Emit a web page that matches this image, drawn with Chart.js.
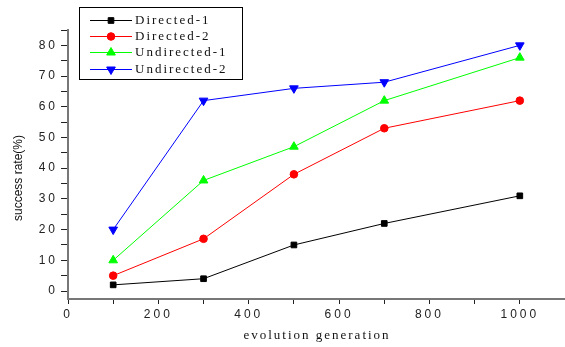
<!DOCTYPE html>
<html><head><meta charset="utf-8">
<script src="https://cdn.jsdelivr.net/npm/chart.js@4/dist/chart.umd.min.js"></script>
<style>html,body{margin:0;padding:0;background:#fff;overflow:hidden}canvas{display:block}</style>
</head><body><canvas id="c" width="565" height="347" style="width:565px;height:347px"></canvas>
<script>
const xValues = [100, 300, 500, 700, 1000];
const directed1 = [2, 4, 15, 22, 31];
const directed2 = [5, 17, 38, 53, 62];
const undirected1 = [10, 36, 47, 62, 76];
const undirected2 = [20, 62, 66, 68, 80];
const seriesNames = ['Directed-1', 'Directed-2', 'Undirected-1', 'Undirected-2'];
const xTitle = 'evolution generation';
const yTitle = 'success rate(%)';

function pts(arr){ return arr.map((v,i)=>({x:xValues[i], y:v})); }

const spacingPlugin = {
  id:'spacing',
  beforeLayout(chart){ chart.ctx.letterSpacing='3px'; },
  beforeDraw(chart){ chart.ctx.letterSpacing='3px'; }
};

const extraPlugin = {
  id:'extra',
  afterDraw(chart){
    const ctx = chart.ctx;
    ctx.save();
    ctx.fillStyle = '#111';
    ctx.letterSpacing = '0px';
    ctx.font = '12px "Liberation Sans", Arial, sans-serif';
    ctx.translate(19, 178);
    ctx.rotate(-Math.PI/2);
    ctx.textAlign = 'center'; ctx.textBaseline = 'middle';
    ctx.fillText(yTitle, 0, 0);
    ctx.restore();
    ctx.save();
    ctx.fillStyle = '#111';
    ctx.letterSpacing = '2px';
    ctx.font = '13px "Liberation Serif", "Times New Roman", serif';
    ctx.textAlign = 'center'; ctx.textBaseline = 'middle';
    ctx.fillText(xTitle, 317, 336);
    ctx.strokeStyle = '#000'; ctx.lineWidth = 1;
    ctx.strokeRect(79.5, 7.5, 163, 72);
    const rows = [20, 36, 52, 69];
    chart.data.datasets.forEach((ds, i) => {
      const y = rows[i];
      ctx.strokeStyle = ds.borderColor; ctx.lineWidth = 1;
      ctx.beginPath(); ctx.moveTo(90, y+0.5); ctx.lineTo(132, y+0.5); ctx.stroke();
      ctx.strokeStyle = ds.borderColor;
      ctx.fillStyle = ds.backgroundColor;
      Chart.helpers.drawPoint(ctx, {pointStyle: ds.pointStyle, radius: ds.pointRadius, rotation: ds.pointRotation||0, borderWidth:1}, 111, y+0.5);
      ctx.fillStyle = '#111';
      ctx.textAlign = 'left'; ctx.textBaseline = 'middle';
      ctx.fillText(ds.label, 135, y+1);
    });
    ctx.restore();
  }
};

const mk = (label, data, color, style, radius, rot) => ({
  label, data: pts(data), borderColor: color, backgroundColor: color,
  borderWidth: 1, pointStyle: style, pointRadius: radius, pointRotation: rot || 0,
  pointBorderWidth: 1, pointHoverRadius: radius, tension: 0, fill: false
});

new Chart(document.getElementById('c'), {
  type: 'line',
  data: { datasets: [
    mk(seriesNames[0], directed1, '#000000', 'rect', 4),
    mk(seriesNames[1], directed2, '#ff0000', 'circle', 3.8),
    mk(seriesNames[2], undirected1, '#00ff00', 'triangle', 5),
    mk(seriesNames[3], undirected2, '#0000ff', 'triangle', 5, 180)
  ]},
  options: {
    responsive: false, animation: false,
    layout: { autoPadding: false, padding: { top: 30, right: 0, left: 0, bottom: 0 } },
    plugins: { legend: { display: false }, tooltip: { enabled: false } },
    scales: {
      x: {
        type: 'linear', min: 0, max: 1100,
        afterFit(s){ s.height = 48; s.paddingRight = 0; s.paddingLeft = 0; },
        border: { display: true, color: '#777', width: 2 },
        grid: { drawOnChartArea: false, drawTicks: true, tickLength: 5, color: '#222', lineWidth: 1 },
        ticks: { stepSize: 100, autoSkip: false, maxRotation: 0, color: '#222', padding: 3,
          font: { family: '"Liberation Sans", Arial, sans-serif', size: 12 },
          callback: v => (v % 200 === 0 && v <= 1000) ? String(v) : '' }
      },
      y: {
        type: 'linear', min: -2.6, max: 85,
        afterFit(s){ s.width = 68; s.paddingTop = 0; s.paddingBottom = 0; },
        afterBuildTicks(s){ const t = []; for (let v = 0; v <= 85; v += 5) t.push({value: v}); s.ticks = t; },
        border: { display: true, color: '#777', width: 2 },
        grid: { drawOnChartArea: false, drawTicks: true, tickLength: 7, color: '#222', lineWidth: 1 },
        ticks: { stepSize: 5, autoSkip: false, color: '#222', padding: 3,
          font: { family: '"Liberation Sans", Arial, sans-serif', size: 12 },
          callback: v => (Math.round(v) % 10 === 0) ? String(Math.round(v)) : '' }
      }
    }
  },
  plugins: [spacingPlugin, extraPlugin]
});
</script></body></html>
